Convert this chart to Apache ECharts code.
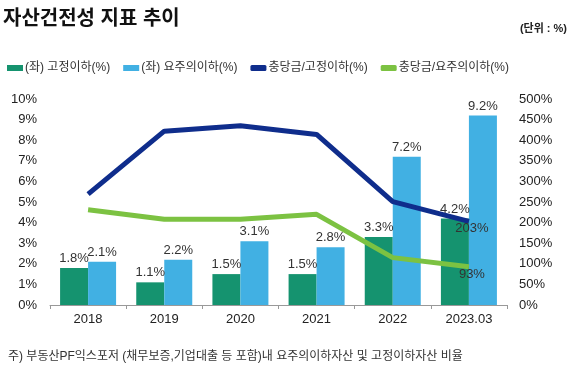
<!DOCTYPE html>
<html>
<head>
<meta charset="utf-8">
<script src="https://cdn.jsdelivr.net/npm/echarts@6/dist/echarts.min.js"></script>
<style>
  html, body { margin: 0; padding: 0; background: #fff; }
  #chart { width: 580px; height: 377px; }
</style>
</head>
<body>
<div id="chart"></div>
<script>
// categories and values
const years = ['2018', '2019', '2020', '2021', '2022', '2023.03'];
const substandard = [1.8, 1.1, 1.5, 1.5, 3.3, 4.2];      // (좌) 고정이하(%)
const precautionary = [2.1, 2.2, 3.1, 2.8, 7.2, 9.2];    // (좌) 요주의이하(%)
const coverSubstandard = [269, 422, 435, 414, 251, 203]; // 충당금/고정이하(%)
const coverPrecaution = [231, 208, 208, 220, 115, 93];   // 충당금/요주의이하(%)

const font = '"Liberation Sans", "Noto Sans CJK KR", sans-serif';
const chart = echarts.init(document.getElementById('chart'));

// only the last point of each line gets a label
const lastLabel = (arr) => arr.map((v, i) => i === arr.length - 1
  ? { value: v, label: { show: true, position: 'bottom', distance: 1, offset: [3, 0], formatter: '{c}%', color: '#333', fontSize: 13, fontFamily: font } }
  : v);

const option = {
  animation: false,
  textStyle: { fontFamily: font },
  title: [
    { text: '자산건전성 지표 추이', left: -2, top: 4, textStyle: { fontSize: 20, fontWeight: 'bold', color: '#111', fontFamily: font } },
    { text: '(단위 : %)', right: 8, top: 18, textStyle: { fontSize: 11, fontWeight: 'bold', color: '#222', fontFamily: font } }
  ],
  legend: {
    left: 2, top: 57,
    itemWidth: 16, itemHeight: 6, itemGap: 13,
    textStyle: { fontSize: 12, color: '#333', fontFamily: font, padding: [0, 0, 0, -3] },
    data: [
      { name: '(좌) 고정이하(%)', icon: 'rect' },
      { name: '(좌) 요주의이하(%)', icon: 'rect' },
      { name: '충당금/고정이하(%)', icon: 'roundRect' },
      { name: '충당금/요주의이하(%)', icon: 'roundRect' }
    ]
  },
  grid: { left: 50, right: 73, top: 99, bottom: 72 },
  xAxis: {
    type: 'category',
    data: years,
    axisLine: { lineStyle: { color: '#999' } },
    axisTick: { show: true, lineStyle: { color: '#999' }, length: 4 },
    axisLabel: { color: '#222', fontSize: 13, margin: 8 }
  },
  yAxis: [
    {
      type: 'value', min: 0, max: 10, interval: 1,
      splitLine: { show: false },
      axisLabel: { formatter: '{value}%', color: '#222', fontSize: 13, margin: 13 }
    },
    {
      type: 'value', min: 0, max: 500, interval: 50,
      splitLine: { show: false },
      axisLabel: { formatter: '{value}%', color: '#222', fontSize: 13, margin: 12 }
    }
  ],
  series: [
    {
      name: '(좌) 고정이하(%)', type: 'bar', data: substandard,
      barWidth: 28, barGap: '0%',
      itemStyle: { color: '#15936f' },
      label: { show: true, position: 'top', formatter: '{c}%', color: '#333', fontSize: 13, distance: 3 }
    },
    {
      name: '(좌) 요주의이하(%)', type: 'bar', data: precautionary,
      barWidth: 28,
      itemStyle: { color: '#41b0e3' },
      label: { show: true, position: 'top', formatter: '{c}%', color: '#333', fontSize: 13, distance: 3 }
    },
    {
      name: '충당금/고정이하(%)', type: 'line', yAxisIndex: 1, data: lastLabel(coverSubstandard),
      symbol: 'circle', symbolSize: 0, lineStyle: { color: '#0f2d8c', width: 5 }, itemStyle: { color: '#0f2d8c' }
    },
    {
      name: '충당금/요주의이하(%)', type: 'line', yAxisIndex: 1, data: lastLabel(coverPrecaution),
      symbol: 'circle', symbolSize: 0, lineStyle: { color: '#7cc242', width: 5 }, itemStyle: { color: '#7cc242' }
    }
  ],
  graphic: [
    {
      type: 'text', left: 8, top: 351,
      style: { text: '주) 부동산PF익스포저 (채무보증,기업대출 등 포함)내 요주의이하자산 및 고정이하자산 비율', fill: '#333', fontSize: 12, fontFamily: font }
    }
  ]
};

chart.setOption(option);
</script>
</body>
</html>
